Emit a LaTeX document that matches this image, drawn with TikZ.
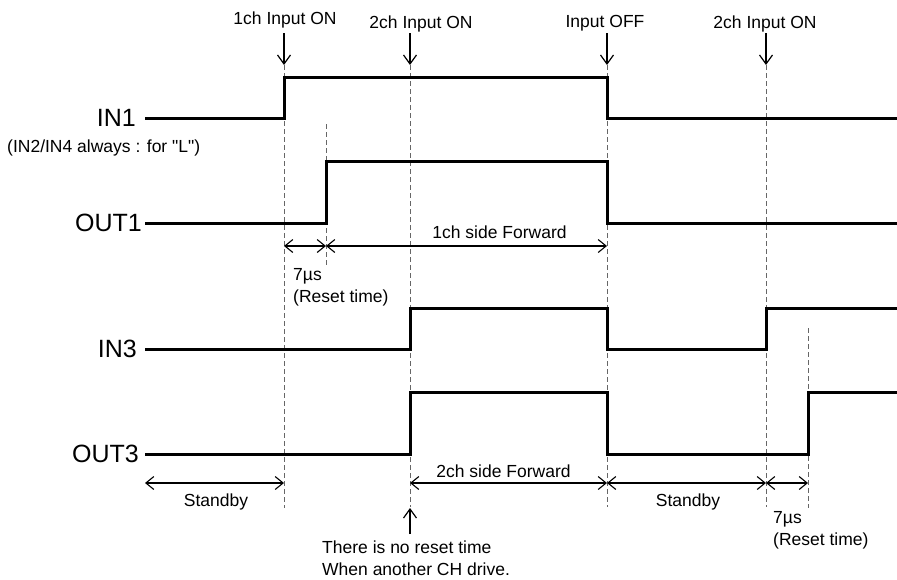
\documentclass[tikz,border=0pt]{standalone}
\usepackage{fontspec}
\setmainfont{Liberation Sans}
\usetikzlibrary{arrows.meta}

\begin{document}
\begin{tikzpicture}[x=1pt,y=1pt,yscale=-1,xscale=1,
    wave/.style={line width=3pt,line join=miter},
    guide/.style={draw=black!60,line width=0.9pt,dash pattern=on 5pt off 3pt},
    dim/.style={line width=1.1pt,>={Straight Barb[length=8pt,width=13pt]},<->},
    pointer/.style={line width=1.2pt,-{Straight Barb[length=9pt,width=13pt]}},
    sig/.style={anchor=east,inner sep=0pt,font=\fontsize{25}{30}\selectfont},
    note/.style={inner sep=0pt,align=left,font=\fontsize{17.5}{22}\selectfont}]
    \useasboundingbox (0,0) rectangle (897,579);
    
    %Event arrows on top
    \foreach \nm/\x in {a/284,c/410,d/607,e/766}{
      \coordinate (top\nm) at (\x,33);
      \coordinate (tip\nm) at (\x,65);
      \draw[pointer] (top\nm) -- (tip\nm);
    }
    
    %Dashed guides
    \foreach \x/\ya/\yb in {284/65/508,326/124/265,410/65/507,607/65/507,766/65/507,808/328/508}
      \draw[guide] (\x,\ya) -- (\x,\yb);
    
    %Waveforms [IN1, OUT1, IN3, OUT3]
    \draw[wave] (145,118) -- (284,118) -- (284,77) -- (607,77) -- (607,118) -- (897,118);
    \draw[wave] (145,223) -- (326,223) -- (326,161) -- (607,161) -- (607,223) -- (897,223);
    \draw[wave] (145,349) -- (410,349) -- (410,308) -- (607,308) -- (607,349) -- (766,349) -- (766,308) -- (897,308);
    \draw[wave] (145,454) -- (410,454) -- (410,392) -- (607,392) -- (607,454) -- (808,454) -- (808,392) -- (897,392);
    
    %Dimension arrows, OUT1 row
    \coordinate (r1a) at (284,246);
    \coordinate (r1b) at (326,246);
    \coordinate (r1d) at (607,246);
    \draw[dim] (r1a) -- (r1b);
    \draw[dim] (r1b) -- (r1d);
    %Dimension arrows, OUT3 row
    \coordinate (r2s) at (145,483);
    \coordinate (r2a) at (284,483);
    \coordinate (r2c) at (410,483);
    \coordinate (r2d) at (607,483);
    \coordinate (r2e) at (766,483);
    \coordinate (r2f) at (808,483);
    \draw[dim] (r2s) -- (r2a);
    \draw[dim] (r2c) -- (r2d);
    \draw[dim] (r2d) -- (r2e);
    \draw[dim] (r2e) -- (r2f);
    
    %Arrow up to OUT3 rise
    \coordinate (nobase) at (410,534);
    \coordinate (notip) at (410,508);
    \draw[pointer] (nobase) -- (notip);
    
    % Text Node
    \draw (285,24.5) node [note,anchor=base] (lon1) {1ch Input ON};
    % Text Node
    \draw (421,28) node [note,anchor=base] (lon2) {2ch Input ON};
    % Text Node
    \draw (605,27.5) node [note,anchor=base] (loff) {Input OFF};
    % Text Node
    \draw (765,28) node [note,anchor=base] (lon3) {2ch Input ON};
    % Text Node
    \draw (136,118) node [sig] (lin1) {IN1};
    % Text Node
    \draw (142,223) node [sig] (lout1) {OUT1};
    % Text Node
    \draw (137,349) node [sig] (lin3) {IN3};
    % Text Node
    \draw (139,454) node [sig] (lout3) {OUT3};
    % Text Node
    \draw (7,148) node [note,anchor=west] (lalways) {(IN2/IN4 always : for \textquotedbl L\textquotedbl)};
    % Text Node
    \draw (499.5,238) node [note,anchor=base] (lfwd1) {1ch side Forward};
    % Text Node
    \draw (503.5,477) node [note,anchor=base] (lfwd2) {2ch side Forward};
    % Text Node
    \draw (216,506) node [note,anchor=base] (lstby1) {Standby};
    % Text Node
    \draw (688,506) node [note,anchor=base] (lstby2) {Standby};
    % Text Node
    \draw (293,268.7) node [note,anchor=north west] (lreset1) {7µs\\(Reset time)};
    % Text Node
    \draw (773,511.7) node [note,anchor=north west] (lreset2) {7µs\\(Reset time)};
    % Text Node
    \draw (322,540.5) node [note,anchor=north west] (lnoreset) {There is no reset time\\When another CH drive.};
    
\end{tikzpicture}
\end{document}
